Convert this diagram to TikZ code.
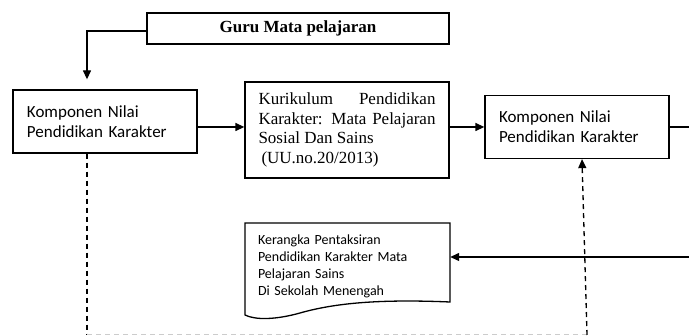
\documentclass[tikz,border=0pt]{standalone}
\usepackage{fontspec}
\setmainfont{Liberation Serif}
\newfontfamily\calibri{Carlito}
\usetikzlibrary{arrows.meta}

\begin{document}
\begin{tikzpicture}[x=1pt, y=-1pt,
    box/.style={draw, line width=1.3pt, inner sep=0pt},
    nilai/.style={box, font=\calibri\fontsize{17}{20}\selectfont, align=left,
      text width=156pt, minimum width=184pt, minimum height=63pt, inner xsep=14pt},
    arr/.style={line width=1.3pt, -{Triangle[length=9pt,width=8pt]}},
    dashln/.style={line width=1.3pt, dash pattern=on 5pt off 4pt}]
  \useasboundingbox (0,0) rectangle (689,336);

  \node[box, font=\bfseries\fontsize{17}{20}\selectfont, minimum width=302pt, minimum height=31pt] (guru) at (298,28.5) {Guru Mata pelajaran};
  \node[nilai] (nilaiA) at (105,121.5) {Komponen Nilai\\Pendidikan Karakter};
  \node[box, font=\fontsize{17}{19.5}\selectfont, align=justify, text width=177pt,
    minimum width=204pt, minimum height=96pt] (kurikulum) at (347,130)
    {Kurikulum Pendidikan\linebreak Karakter: Mata Pelajaran\linebreak Sosial Dan Sains\\ \hspace*{3pt}(UU.no.20/2013)};
  \node[nilai] (nilaiB) at (577,127) {Komponen Nilai\\Pendidikan Karakter};

  % dokumen
  \draw[line width=1.3pt] (245,223) -- (450,223) -- (450,302) .. controls (380,299) and (335,303) .. (300,313)
    .. controls (275,320) and (255,320) .. (245,315) -- cycle;
  \node[font=\calibri\fontsize{14}{17}\selectfont, align=left, text width=179pt, inner xsep=13pt,
    inner ysep=0pt, minimum width=205pt, minimum height=92pt] (kerangka) at (347.5,266)
    {Kerangka Pentaksiran\\Pendidikan Karakter Mata\\Pelajaran Sains\\Di Sekolah Menengah};

  \coordinate (out1) at (689,127);
  \coordinate (in1) at (689,257);
  \coordinate (bl) at (87,335);
  \coordinate (br) at (587,335);

  \draw[arr, shorten >=10pt] ([yshift=-2.5pt]guru.west) -| ([xshift=-18pt]nilaiA.north);
  \draw[arr] ([yshift=-5.5pt]nilaiA.east) -- ([yshift=-5.5pt]nilaiA.east -| kurikulum.west);
  \draw[arr] (kurikulum.east |- nilaiB.west) -- (nilaiB.west);
  \draw[line width=1.3pt] (nilaiB.east) -- (out1);
  \draw[arr] (in1) -- (in1 -| kerangka.east);

  \draw[dashln] ([xshift=-18pt]nilaiA.south) -- (bl);
  \draw[dashln, gray!40, line width=1pt] (bl) -- (br);
  \draw[dashln, arr] (br) -- ([xshift=5pt]nilaiB.south);
\end{tikzpicture}
\end{document}
